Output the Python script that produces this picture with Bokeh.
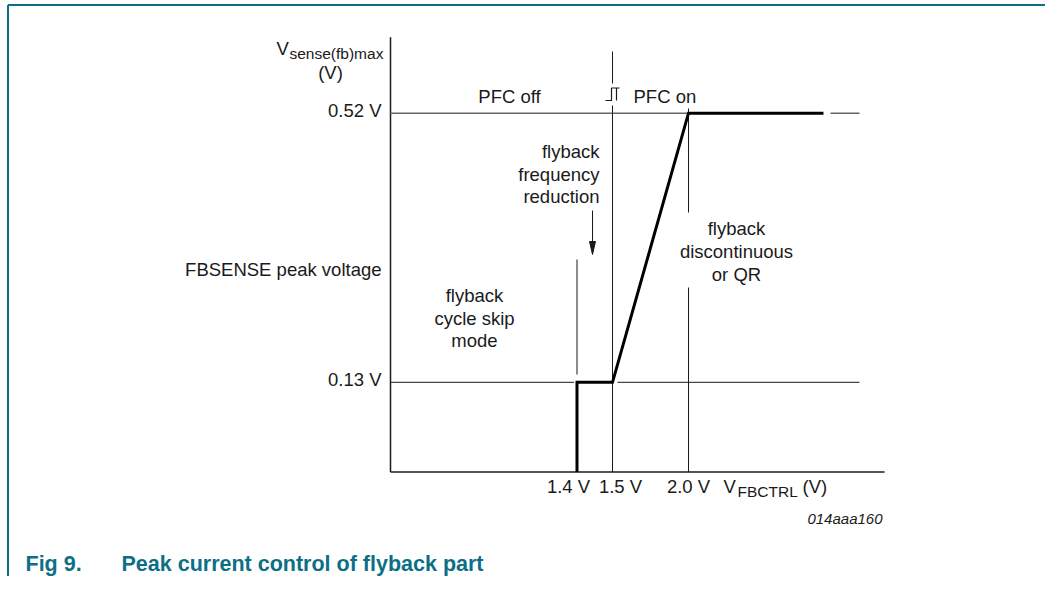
from bokeh.plotting import figure
from bokeh.models import Range1d
from bokeh.core.properties import value
from bokeh.embed import file_html
from bokeh.resources import INLINE

# ---------------- data ----------------
# y axis: FBSENSE peak voltage (V), linear
y_levels = [0.13, 0.52]
y_tick_labels = ["0.13 V", "0.52 V"]
y_axis_top = 0.63

# x axis: V_FBCTRL, schematic (non-linear) positions of the breakpoints
x_volts = [1.4, 1.5, 2.0]
x_tick_labels = ["1.4 V", "1.5 V", "2.0 V"]
x_pos = [186.5, 222, 298]          # schematic position of each breakpoint
x_axis_end = 494
x_curve_end = 433                  # end of the drawn characteristic
x_dash = [440, 469]                # continuation dash at 0.52 V

# peak-voltage characteristic (thick line)
curve_x = [x_pos[0], x_pos[0], x_pos[1], x_pos[2], x_curve_end]
curve_y = [0.0, y_levels[0], y_levels[0], y_levels[1], y_levels[1]]

FONT = "Liberation Sans"
TEAL = "#0d6f86"
BLACK = "#1a1a1a"

# pixel helpers (canvas pixels)
K = 690.0
def X(px):
    return px - 390.0
def Y(py):
    return (471.5 - py) / K

W, H = 1045, 576
p = figure(width=W, height=H, output_backend="svg", toolbar_location=None,
           x_range=Range1d(X(0), X(W)), y_range=Range1d(Y(H), Y(0)),
           x_axis_type=None, y_axis_type=None, min_border=0,
           outline_line_color=None, background_fill_color="white",
           border_fill_color="white")
p.xgrid.visible = False
p.ygrid.visible = False

# frame border (top and left)
p.segment(x0=[X(7.5), X(7.5)], y0=[Y(4.5), Y(4.5)], x1=[X(W), X(7.5)], y1=[Y(4.5), Y(H)],
          line_color=TEAL, line_width=2)

# axes
p.segment(x0=[0, 0], y0=[0, 0], x1=[0, x_axis_end], y1=[y_axis_top, 0],
          line_color=BLACK, line_width=1.5)

# horizontal reference lines
p.segment(x0=[0], y0=[y_levels[1]], x1=[x_pos[2]], y1=[y_levels[1]],
          line_color="#666666", line_width=1.4)
p.segment(x0=[x_dash[0]], y0=[y_levels[1]], x1=[x_dash[1]], y1=[y_levels[1]],
          line_color="#666666", line_width=1.4)
p.segment(x0=[0, x_pos[1] + 5], y0=[y_levels[0], y_levels[0]],
          x1=[x_pos[0] - 3, x_dash[1]], y1=[y_levels[0], y_levels[0]],
          line_color=BLACK, line_width=1)

# vertical reference lines
p.segment(x0=[x_pos[0]], y0=[Y(259)], x1=[x_pos[0]], y1=[Y(374)], line_color=BLACK, line_width=1)
p.segment(x0=[x_pos[1], x_pos[1]], y0=[Y(51), Y(105)], x1=[x_pos[1], x_pos[1]], y1=[Y(83), 0],
          line_color=BLACK, line_width=1)
p.segment(x0=[x_pos[2], x_pos[2]], y0=[Y(108), Y(287)], x1=[x_pos[2], x_pos[2]], y1=[Y(212), 0],
          line_color=BLACK, line_width=1)

# hysteresis symbol
p.multi_line(xs=[[X(605), X(611), X(611), X(619)], [X(616), X(616)]],
             ys=[[Y(100), Y(100), Y(87.5), Y(87.5)], [Y(87.5), Y(100)]],
             line_color=BLACK, line_width=1.2)

# characteristic
p.line(curve_x, curve_y, line_color="black", line_width=3, line_join="miter")

# arrow for frequency reduction
p.segment(x0=[X(592)], y0=[Y(210)], x1=[X(592)], y1=[Y(244)], line_color=BLACK, line_width=1)
p.patch(x=[X(589), X(595), X(592)], y=[Y(241), Y(241), Y(254)], fill_color=BLACK, line_color=BLACK)

def txt(x, base, s, size=18.5, align="left", style="normal", color=BLACK):
    # compensate the renderer's baseline placement
    y = Y(base - 0.36 * size)
    p.text(x=[x], y=[y], text=[s], text_font=value(FONT), text_font_size=f"{size}px",
           text_align=align, text_baseline="alphabetic", text_font_style=style,
           text_color=color)

# y tick labels
for lvl, lab, base in zip(y_levels, y_tick_labels, [386, 117]):
    txt(X(381), base, lab, align="right")
txt(X(381), 276, "FBSENSE peak voltage", align="right")

# y axis title
txt(X(276), 55, "V")
txt(X(289), 59, "sense(fb)max", size=15.5)
txt(X(330), 79, "(V)", align="center")

# x tick labels
for pos, lab, c in zip(x_pos, x_tick_labels, [568, 620, 688]):
    txt(X(c), 493, lab, align="center")

# x axis title
txt(X(723), 493, "V")
txt(X(737), 497, "FBCTRL", size=15.5)
txt(X(802), 493, "(V)")

# region annotations
txt(X(509), 103, "PFC off", align="center")
txt(X(633), 103, "PFC on")
for s, b in zip(["flyback", "frequency", "reduction"], [158, 181, 203]):
    txt(X(599), b, s, align="right")
for s, b in zip(["flyback", "cycle skip", "mode"], [302, 325, 347]):
    txt(X(474), b, s, align="center")
for s, b in zip(["flyback", "discontinuous", "or QR"], [235, 258, 281]):
    txt(X(736), b, s, align="center")

txt(X(882), 523, "014aaa160", size=15, align="right", style="italic")

# caption
txt(X(25), 571, "Fig 9.", size=21.5, style="bold", color=TEAL)
txt(X(121), 571, "Peak current control of flyback part", size=21.5, style="bold", color=TEAL)

open("out.html", "w").write(file_html(p, INLINE))
